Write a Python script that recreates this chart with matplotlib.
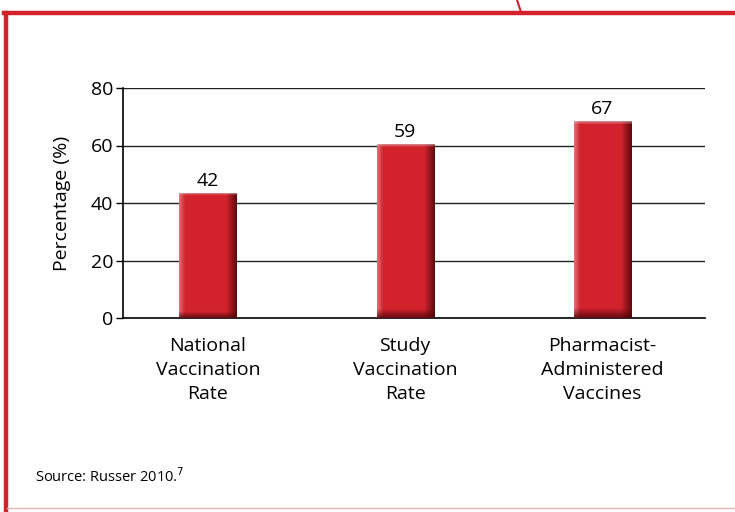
import numpy as np
import matplotlib
matplotlib.use('Agg')
import matplotlib.pyplot as plt
from matplotlib.lines import Line2D

plt.rcParams['font.family'] = ['Open Sans', 'DejaVu Sans']

categories = ['National\nVaccination\nRate', 'Study\nVaccination\nRate', 'Pharmacist-\nAdministered\nVaccines']
values = [42, 59, 67]
y_ticks = [0, 20, 40, 60, 80]

RED = '#D2232C'


def bar_image(nx=60, ny=200):
    """RGBA gradient for a bevelled red bar."""
    base = np.array([0.824, 0.137, 0.173])
    light = np.array([0.90, 0.50, 0.53])
    dark = np.array([0.30, 0.02, 0.04])
    img = np.tile(base, (ny, nx, 1))
    u = np.linspace(0, 1, nx)
    # left highlight
    left = np.clip(1 - u / 0.10, 0, 1)[None, :, None]
    img = img * (1 - 0.8 * left) + light * 0.8 * left
    # right shade
    right = np.clip((u - 0.82) / 0.18, 0, 1)[None, :, None]
    img = img * (1 - 0.85 * right) + dark * 0.85 * right
    # bottom shade (row 0 is top)
    v = np.linspace(0, 1, ny)
    bot = np.clip((v - 0.95) / 0.05, 0, 1)[:, None, None]
    img = img * (1 - 0.8 * bot) + dark * 0.8 * bot
    top = np.clip(1 - v / 0.015, 0, 1)[:, None, None]
    img = img * (1 - 0.6 * top) + np.array([0.85, 0.75, 0.76]) * 0.6 * top
    return np.clip(img, 0, 1)


fig = plt.figure(figsize=(7.35, 5.12), dpi=100)
fig.patch.set_facecolor('white')

W, H = 735, 512
ax = fig.add_axes([123 / W, 1 - 318 / H, (705 - 123) / W, (318 - 88) / H])

x = np.arange(len(categories))
bw = 0.29
img = bar_image()
for xi, v in zip(x, values):
    ax.imshow(img, extent=(xi - bw / 2, xi + bw / 2, 0, v + 1.2), aspect='auto',
              interpolation='bilinear', zorder=3)
    ax.text(xi, v + 2.4, str(v), ha='center', va='bottom', fontsize=14, zorder=4)

ax.set_xlim(-0.43, 2.52)
ax.set_ylim(0, 80)
ax.set_yticks(y_ticks)
ax.tick_params(axis='y', length=5, width=1, labelsize=14, pad=2, color='black')
ax.set_xticks(x)
ax.set_xticklabels(categories, fontsize=14, linespacing=1.4)
ax.tick_params(axis='x', length=0, pad=14)
for t in y_ticks[1:]:
    ax.axhline(t, color='#222222', lw=1, zorder=1)
for side in ['top', 'right']:
    ax.spines[side].set_visible(False)
ax.spines['left'].set_linewidth(1.2)
ax.spines['bottom'].set_linewidth(1.2)
ax.set_ylabel('Percentage (%)', fontsize=14, labelpad=14)

# frame decorations
fig.add_artist(Line2D([4 / W, 1], [1 - 13 / H, 1 - 13 / H], color=RED, lw=3.2))
fig.add_artist(Line2D([5.5 / W, 5.5 / W], [0, 1 - 13 / H], color=RED, lw=3.2))
fig.add_artist(Line2D([7 / W, 1], [1 - 508 / H, 1 - 508 / H], color='#EDB5B8', lw=1))
fig.add_artist(Line2D([517 / W, 521 / W], [1, 1 - 12 / H], color=RED, lw=1.5))

fig.text(35 / W, 1 - 477 / H, 'Source: Russer 2010.$^{7}$', fontsize=10.5, va='center')

plt.savefig('out.png', dpi=100)
plt.close()
